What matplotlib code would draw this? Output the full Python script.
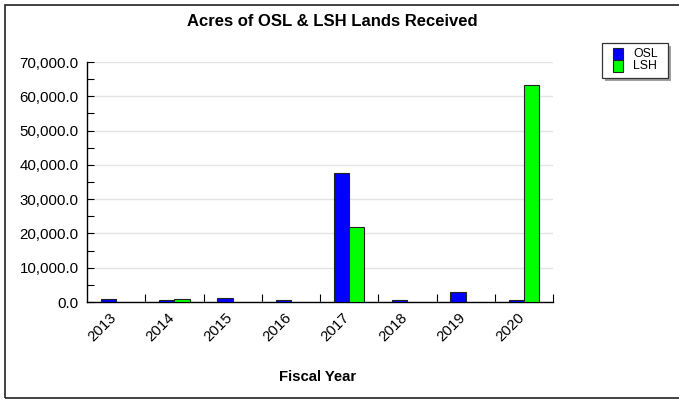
import matplotlib
matplotlib.use('Agg')
import matplotlib.pyplot as plt
import matplotlib.transforms as mtransforms
import numpy as np
from matplotlib.patches import Rectangle
from matplotlib.ticker import FuncFormatter, MultipleLocator

plt.rcParams['font.family'] = ['Liberation Sans', 'DejaVu Sans']

years = ['2013', '2014', '2015', '2016', '2017', '2018', '2019', '2020']
osl = [1000, 600, 1300, 500, 37600, 500, 2900, 500]
lsh = [0, 1000, 0, 0, 21900, 0, 0, 63300]
series = ['OSL', 'LSH']
colors = ['#0000ff', '#00ff00']

W, H = 679, 400
fig = plt.figure(figsize=(W / 100, H / 100), dpi=100)
ax = fig.add_axes([87 / W, 1 - 302 / H, 466 / W, 240 / H])

x = np.arange(len(years))
w = 0.26
edge = dict(edgecolor='#222222', linewidth=0.8)
ax.bar(x - w / 2, osl, w, color=colors[0], zorder=3, **edge)
lsh_masked = [v if v > 0 else np.nan for v in lsh]
ax.bar(x + w / 2, lsh_masked, w, color=colors[1], zorder=3, **edge)

ax.set_xlim(-0.5, len(years) - 0.5)
ax.set_ylim(0, 70000)
ax.yaxis.set_major_locator(MultipleLocator(10000))
ax.yaxis.set_minor_locator(MultipleLocator(5000))
ax.yaxis.set_major_formatter(FuncFormatter(lambda v, p: f'{v:,.1f}'))
ax.tick_params(axis='y', which='both', direction='in', labelsize=10.8,
               length=5, width=0.8, pad=6)
ax.grid(axis='y', color='#e4e4e4', linewidth=1, zorder=0)

# boundary ticks (no labels), labels at centres (no tick)
ax.set_xticks(np.arange(len(years)) + 0.5)
ax.set_xticklabels([])
ax.set_xticks(x, minor=True)
ax.set_xticklabels(years, minor=True, rotation=45, ha='right',
                   rotation_mode='anchor', fontsize=10.8)
ax.tick_params(axis='x', which='major', direction='in', length=6, width=0.8)
ax.tick_params(axis='x', which='minor', length=0, pad=6)
shift = mtransforms.ScaledTranslation(-7 / 100, 0, fig.dpi_scale_trans)
for lab in ax.get_xticklabels(minor=True):
    lab.set_transform(lab.get_transform() + shift)

for s in ('top', 'right'):
    ax.spines[s].set_visible(False)
for s in ('left', 'bottom'):
    ax.spines[s].set_linewidth(1.0)

fig.text(332 / W, 1 - 22 / H, 'Acres of OSL & LSH Lands Received',
         ha='center', va='center', fontsize=12, fontweight='bold')
fig.text(318 / W, 1 - 377 / H, 'Fiscal Year', ha='center',
         va='center', fontsize=10.7, fontweight='bold')

# legend box drawn by hand (pixel layout of the original)
def px(x0, y0, w0, h0, **kw):
    fig.patches.append(Rectangle((x0 / W, 1 - (y0 + h0) / H), w0 / W, h0 / H,
                                 transform=fig.transFigure, **kw))

px(605, 46, 66, 35, facecolor='#a0a0a0', edgecolor='none')
px(602, 43, 66, 35, facecolor='white', edgecolor='#333333', linewidth=0.9)
for i, (name, col) in enumerate(zip(series, colors)):
    top = 48 + i * 12
    px(613, top, 10, 12, facecolor=col, edgecolor='#222222', linewidth=0.8)
    fig.text(633 / W, 1 - (top + 6) / H, name, ha='left', va='center',
             fontsize=8.8)

# outer frame (right side runs off the image in the original)
px(5, 5, 690, 393, fill=False, edgecolor='#222222', linewidth=1.2)

fig.savefig('out.png', dpi=100, facecolor='white')
